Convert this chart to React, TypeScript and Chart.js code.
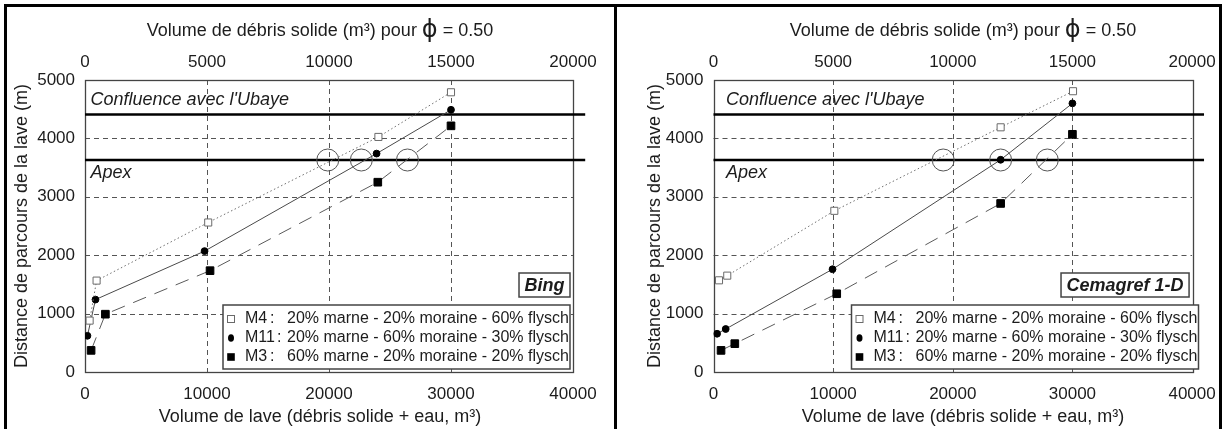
import React, { useEffect, useRef } from 'react';
import { Chart, registerables } from 'chart.js';

Chart.register(...registerables);

const FONT = '"Liberation Sans", Arial, Helvetica, sans-serif';
const TEXT = '#1c1c1c';

// ---- axes / tick labels ----
const X_TICKS = [0, 10000, 20000, 30000, 40000];
const X2_TICKS = [0, 5000, 10000, 15000, 20000];
const Y_TICKS = [0, 1000, 2000, 3000, 4000, 5000];

const TOP_TITLE_PARTS = ['Volume de débris solide (m³) pour ', 'ϕ', ' = 0.50'];
const BOTTOM_TITLE = 'Volume de lave (débris solide + eau, m³)';
const Y_TITLE = 'Distance de parcours de la lave (m)';

// ---- reference lines ----
const REF_LABELS = ["Confluence avec l'Ubaye", 'Apex'];
const REF_VALUES = [4410, 3630];
const REF_X_END = 41000;

// ---- series ----
const SERIES_NAMES = ['M4', 'M11', 'M3'];
const SERIES_DESC = [
  '20% marne - 20% moraine - 60% flysch',
  '20% marne - 60% moraine - 30% flysch',
  '60% marne - 20% moraine - 20% flysch',
];

// Bing
const BING_M4_X = [380, 950, 10100, 24050, 30000];
const BING_M4_Y = [880, 1565, 2560, 4025, 4790];
const BING_M11_X = [200, 860, 9800, 23900, 30000];
const BING_M11_Y = [620, 1240, 2070, 3740, 4490];
const BING_M3_X = [500, 1670, 10250, 24000, 30000];
const BING_M3_Y = [370, 990, 1735, 3250, 4215];
const BING_CIRCLE_X = [19900, 22650, 26430];

// Cemagref 1-D
const CEMA_M4_X = [460, 1150, 10100, 24000, 30050];
const CEMA_M4_Y = [1570, 1650, 2760, 4190, 4808];
const CEMA_M11_X = [300, 1020, 9950, 24000, 30000];
const CEMA_M11_Y = [655, 736, 1760, 3634, 4600];
const CEMA_M3_X = [630, 1780, 10300, 24000, 30000];
const CEMA_M3_Y = [370, 485, 1340, 2886, 4070];
const CEMA_CIRCLE_X = [19200, 24000, 27900];

const CIRCLE_Y = 3630;

type PanelCfg = {
  label: string;
  left: number;
  axisW: number;
  padR: number;
  titleX: number;
  yTitleX: number;
  annDx: number;
  xs: number[][];
  ys: number[][];
  circles: number[];
};

const PANELS: PanelCfg[] = [
  {
    label: 'Bing',
    left: 0,
    axisW: 85,
    padR: 41,
    titleX: 320,
    yTitleX: 22.5,
    annDx: 5.5,
    xs: [BING_M4_X, BING_M11_X, BING_M3_X],
    ys: [BING_M4_Y, BING_M11_Y, BING_M3_Y],
    circles: BING_CIRCLE_X,
  },
  {
    label: 'Cemagref 1-D',
    left: 614,
    axisW: 99.5,
    padR: 24.5,
    titleX: 349,
    yTitleX: 41,
    annDx: 12.5,
    xs: [CEMA_M4_X, CEMA_M11_X, CEMA_M3_X],
    ys: [CEMA_M4_Y, CEMA_M11_Y, CEMA_M3_Y],
    circles: CEMA_CIRCLE_X,
  },
];

const SERIES_STYLE = [
  { pointStyle: 'rect', r: 5, fill: '#ffffff', stroke: '#6a6a6a', line: '#6e6e6e', dash: [1.5, 2.5] },
  { pointStyle: 'circle', r: 3.4, fill: '#000000', stroke: '#000000', line: '#4a4a4a', dash: [] as number[] },
  { pointStyle: 'rect', r: 5.4, fill: '#000000', stroke: '#000000', line: '#5a5a5a', dash: [14, 9] },
];

function drawMarker(ctx: CanvasRenderingContext2D, i: number, cx: number, cy: number) {
  ctx.save();
  ctx.setLineDash([]);
  if (i === 0) {
    ctx.fillStyle = '#fff';
    ctx.strokeStyle = '#6a6a6a';
    ctx.lineWidth = 1;
    ctx.fillRect(cx - 3.5, cy - 3.5, 7, 7);
    ctx.strokeRect(cx - 3.5, cy - 3.5, 7, 7);
  } else if (i === 1) {
    ctx.fillStyle = '#000';
    ctx.beginPath();
    ctx.ellipse(cx, cy, 3, 3.8, 0, 0, Math.PI * 2);
    ctx.fill();
  } else {
    ctx.fillStyle = '#000';
    ctx.fillRect(cx - 3.8, cy - 3.8, 7.6, 7.6);
  }
  ctx.restore();
}

function makeDecor(cfg: PanelCfg) {
  return {
    id: 'decor',
    beforeDatasetsDraw(chart: any) {
      const { ctx, chartArea: a, scales } = chart;
      ctx.save();
      ctx.strokeStyle = '#555';
      ctx.lineWidth = 1;
      ctx.setLineDash([5, 4]);
      for (const t of scales.x.ticks) {
        if (t.value <= scales.x.min || t.value >= scales.x.max) continue;
        const px = Math.round(scales.x.getPixelForValue(t.value)) + 0.5;
        ctx.beginPath();
        ctx.moveTo(px, a.top);
        ctx.lineTo(px, a.bottom);
        ctx.stroke();
      }
      for (const t of scales.y.ticks) {
        if (t.value <= scales.y.min || t.value >= scales.y.max) continue;
        const py = Math.round(scales.y.getPixelForValue(t.value)) + 0.5;
        ctx.beginPath();
        ctx.moveTo(a.left, py);
        ctx.lineTo(a.right, py);
        ctx.stroke();
      }
      ctx.setLineDash([]);
      ctx.strokeStyle = '#444';
      ctx.lineWidth = 1.3;
      ctx.strokeRect(Math.round(a.left) + 0.5, Math.round(a.top) + 0.5, Math.round(a.right - a.left), Math.round(a.bottom - a.top));
      ctx.restore();
    },
    afterDatasetsDraw(chart: any) {
      const { ctx, chartArea: a, scales } = chart;
      ctx.save();
      ctx.fillStyle = TEXT;
      ctx.textBaseline = 'middle';
      ctx.textAlign = 'left';
      // reference line labels
      ctx.font = `italic 18px ${FONT}`;
      ctx.fillText(REF_LABELS[0], a.left + cfg.annDx, scales.y.getPixelForValue(REF_VALUES[0]) - 14);
      ctx.fillText(REF_LABELS[1], a.left + cfg.annDx, scales.y.getPixelForValue(REF_VALUES[1]) + 13);

      // legend box
      const lx = a.left + 138;
      const lw = 347;
      const lt = a.bottom - 67;
      const lh = 64;
      ctx.fillStyle = '#fff';
      ctx.fillRect(lx, lt, lw, lh);
      ctx.strokeStyle = '#444';
      ctx.lineWidth = 1.5;
      ctx.strokeRect(lx, lt, lw, lh);
      ctx.font = `16px ${FONT}`;
      const rows = [14, 33, 52];
      for (let i = 0; i < 3; i++) {
        const cy = lt + rows[i];
        drawMarker(ctx, i, lx + 8, cy);
        ctx.fillStyle = TEXT;
        ctx.fillText(SERIES_NAMES[i], lx + 22, cy);
        ctx.fillText(':', lx + (i === 1 ? 54 : 47), cy);
        ctx.fillText(SERIES_DESC[i], lx + 64, cy);
      }

      // model label box
      ctx.font = `italic bold 18px ${FONT}`;
      const tw = ctx.measureText(cfg.label).width;
      const bw = tw + 11;
      const br = a.right - 3;
      const bt = a.bottom - 99;
      const bh = 24;
      ctx.fillStyle = '#fff';
      ctx.fillRect(br - bw, bt, bw, bh);
      ctx.strokeStyle = '#444';
      ctx.lineWidth = 1.5;
      ctx.strokeRect(br - bw, bt, bw, bh);
      ctx.fillStyle = TEXT;
      ctx.textAlign = 'center';
      ctx.fillText(cfg.label, br - bw / 2, bt + bh / 2 + 1);
      ctx.restore();
    },
    afterDraw(chart: any) {
      const { ctx, chartArea: a } = chart;
      ctx.save();
      ctx.fillStyle = TEXT;
      ctx.textBaseline = 'middle';
      // top title with a larger phi
      const fonts = [`18px ${FONT}`, `24px "DejaVu Sans", ${FONT}`, `18px ${FONT}`];
      const widths = TOP_TITLE_PARTS.map((s, i) => {
        ctx.font = fonts[i];
        return ctx.measureText(s).width;
      });
      let x = cfg.titleX - widths.reduce((p, c) => p + c, 0) / 2;
      ctx.textAlign = 'left';
      TOP_TITLE_PARTS.forEach((s, i) => {
        ctx.font = fonts[i];
        ctx.fillText(s, x, i === 1 ? 31 : 31.5);
        x += widths[i];
      });
      ctx.font = `18px ${FONT}`;
      ctx.textAlign = 'center';
      ctx.fillText(BOTTOM_TITLE, cfg.titleX, 417);
      ctx.translate(cfg.yTitleX, (a.top + a.bottom) / 2);
      ctx.rotate(-Math.PI / 2);
      ctx.fillText(Y_TITLE, 0, 0);
      ctx.restore();
    },
  };
}

function buildConfig(cfg: PanelCfg): any {
  const tickFont = { family: FONT, size: 17 };
  const seriesSets = SERIES_NAMES.map((name, i) => {
    const st = SERIES_STYLE[i];
    return {
      label: name,
      data: cfg.xs[i].map((x, j) => ({ x, y: cfg.ys[i][j] })),
      showLine: true,
      borderColor: st.line,
      borderWidth: 1,
      borderDash: st.dash,
      pointStyle: st.pointStyle,
      pointRadius: st.r,
      pointBackgroundColor: st.fill,
      pointBorderColor: st.stroke,
      pointBorderWidth: 1,
      fill: false,
    };
  });
  const circleSet = {
    label: 'intersections',
    data: cfg.circles.map((x) => ({ x, y: CIRCLE_Y })),
    showLine: false,
    pointStyle: 'circle',
    pointRadius: 11,
    pointBackgroundColor: 'rgba(0,0,0,0)',
    pointBorderColor: '#555',
    pointBorderWidth: 1,
  };
  const refSets = REF_VALUES.map((v, i) => ({
    label: REF_LABELS[i],
    data: [
      { x: X_TICKS[0], y: v },
      { x: REF_X_END, y: v },
    ],
    showLine: true,
    borderColor: '#000',
    borderWidth: 2.6,
    pointRadius: 0,
    clip: false,
  }));

  return {
    type: 'scatter',
    data: { datasets: [...seriesSets, circleSet, ...refSets] },
    options: {
      animation: false,
      responsive: false,
      devicePixelRatio: 1,
      events: [],
      layout: { padding: { left: 0, top: 0, right: cfg.padR, bottom: 0 } },
      plugins: { legend: { display: false }, tooltip: { enabled: false } },
      scales: {
        x: {
          type: 'linear',
          position: 'bottom',
          min: X_TICKS[0],
          max: X_TICKS[X_TICKS.length - 1],
          afterBuildTicks: (s: any) => {
            s.ticks = X_TICKS.map((value) => ({ value }));
          },
          ticks: { font: tickFont, color: TEXT, padding: 12.3, maxRotation: 0, autoSkip: false, callback: (v: any) => String(v) },
          grid: { display: false, drawTicks: false },
          border: { display: false },
          afterFit: (s: any) => {
            s.height = 57;
          },
        },
        x2: {
          type: 'linear',
          position: 'top',
          min: X2_TICKS[0],
          max: X2_TICKS[X2_TICKS.length - 1],
          afterBuildTicks: (s: any) => {
            s.ticks = X2_TICKS.map((value) => ({ value }));
          },
          ticks: { font: tickFont, color: TEXT, padding: 7.3, maxRotation: 0, autoSkip: false, callback: (v: any) => String(v) },
          grid: { display: false, drawTicks: false },
          border: { display: false },
          afterFit: (s: any) => {
            s.height = 80;
          },
        },
        y: {
          type: 'linear',
          position: 'left',
          min: Y_TICKS[0],
          max: Y_TICKS[Y_TICKS.length - 1],
          afterBuildTicks: (s: any) => {
            s.ticks = Y_TICKS.map((value) => ({ value }));
          },
          ticks: { font: tickFont, color: TEXT, padding: 10, autoSkip: false, callback: (v: any) => String(v) },
          grid: { display: false, drawTicks: false },
          border: { display: false },
          afterFit: (s: any) => {
            s.width = cfg.axisW;
          },
        },
      },
    },
    plugins: [makeDecor(cfg)],
  };
}

function PanelChart({ cfg }: { cfg: PanelCfg }) {
  const ref = useRef<HTMLCanvasElement>(null);
  useEffect(() => {
    const chart = new Chart(ref.current as HTMLCanvasElement, buildConfig(cfg));
    return () => chart.destroy();
  }, [cfg]);
  return (
    <canvas
      ref={ref}
      width={614}
      height={429}
      style={{ position: 'absolute', left: cfg.left, top: 0, width: 614, height: 429 }}
    />
  );
}

const bar = (left: number, top: number, width: number, height: number, color = '#000') => (
  <div style={{ position: 'absolute', left, top, width, height, background: color, zIndex: 2 }} />
);

export default function App() {
  return (
    <div style={{ position: 'fixed', left: 0, top: 0, width: 1228, height: 429, background: '#fff', overflow: 'hidden' }}>
      {PANELS.map((p) => (
        <PanelChart key={p.label} cfg={p} />
      ))}
      {bar(1222, 0, 6, 429, '#fff')}
      {bar(4, 4, 1218, 3)}
      {bar(4, 4, 3, 425)}
      {bar(614, 4, 3, 425)}
      {bar(1219, 4, 3, 425)}
    </div>
  );
}
